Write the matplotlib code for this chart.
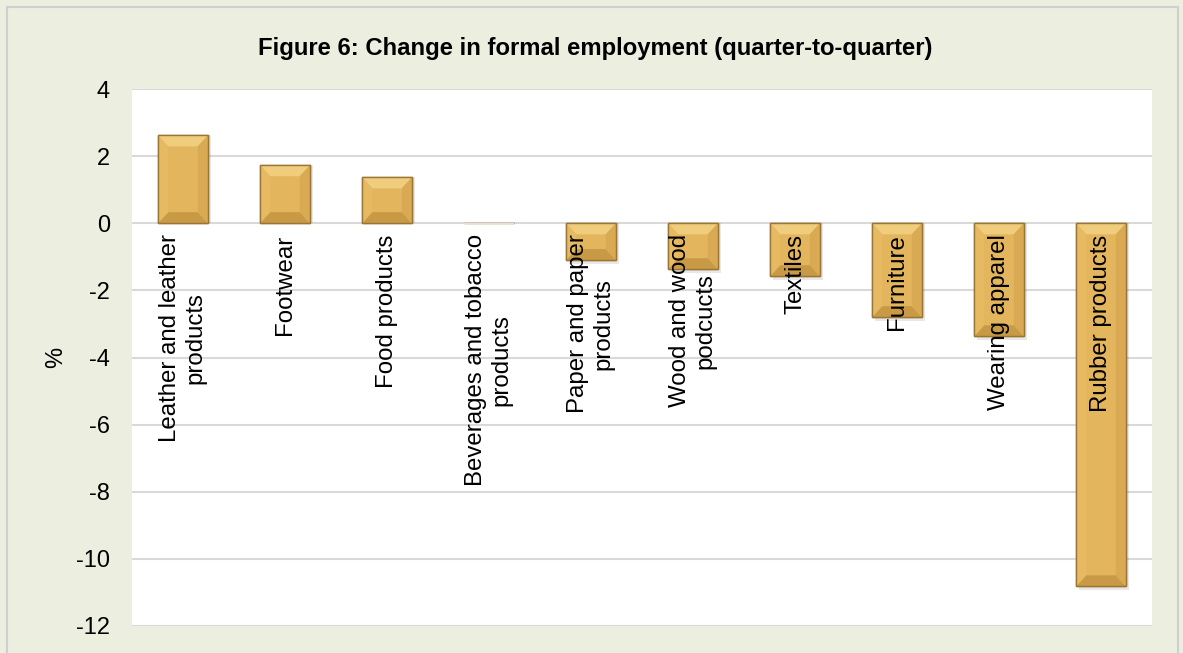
import matplotlib
matplotlib.use("Agg")
import matplotlib.pyplot as plt
from matplotlib.patches import Rectangle
import numpy as np

plt.rcParams['font.family'] = ['Liberation Sans', 'DejaVu Sans']

categories = ["Leather and leather\nproducts", "Footwear", "Food products",
              "Beverages and tobacco\nproducts", "Paper and paper\nproducts",
              "Wood and wood\npodcucts", "Textiles", "Furniture",
              "Wearing apparel", "Rubber products"]
values = [2.62, 1.73, 1.37, 0.02, -1.1, -1.37, -1.58, -2.8, -3.37, -10.82]
yticks = [4, 2, 0, -2, -4, -6, -8, -10, -12]

W, H = 1183, 653
fig = plt.figure(figsize=(W/100, H/100), dpi=100)
bg = "#ECEFDF"
fig.patch.set_facecolor(bg)
fig.patches.append(Rectangle((7/W, -0.05), (1178-7)/W, 1.05 - 7/H, transform=fig.transFigure,
                             fill=False, edgecolor="#CFCFCF", linewidth=1.5))

ax = fig.add_axes([132/W, 1-626/H, (1152-132)/W, (626-89)/H])
ax.set_facecolor("white")
x = np.arange(len(categories))
width = 0.49
bx = 0.1

# shadow
ax.bar(x + 0.03, [v - 0.12 if v < 0 else v for v in values], width, bottom=0,
       color="#000000", alpha=0.09, zorder=2)
ax.bar(x, values, width, color="#E3B55C", edgecolor="#9A7533", linewidth=1.0, zorder=3)

# bevel highlight / shade strips
for xi, v in zip(x, values):
    if abs(v) < 0.05:
        ax.bar(xi, 0.04, width, bottom=-0.02, color="#E6E0D2", zorder=3)
        continue
    top = max(v, 0)
    bot = min(v, 0)
    b = min(0.33, abs(v) * 0.3)
    L, R = xi - width/2, xi + width/2
    ax.fill([L, R, R - bx, L + bx], [top, top, top - b, top - b], color="#F0CD7C", zorder=4, lw=0)
    ax.fill([L, R, R - bx, L + bx], [bot, bot, bot + b, bot + b], color="#C99A45", zorder=4, lw=0)
    ax.fill([L, L + bx, L + bx, L], [top, top - b, bot + b, bot], color="#E6BA62", zorder=4, lw=0)
    ax.fill([R, R - bx, R - bx, R], [top, top - b, bot + b, bot], color="#D9A954", zorder=4, lw=0)
    ax.bar(xi, v, width, color="none", edgecolor="#9A7533", linewidth=1.0, zorder=5)

for xi, lab in zip(x, categories):
    ax.text(xi, -0.33, lab, rotation=90, ha='center', va='top', multialignment='center',
            fontsize=17.3, color="black", zorder=6)

ax.set_xlim(-0.5, len(categories) - 0.5)
ax.set_ylim(-12, 4)
ax.set_yticks(yticks)
ax.set_yticklabels([str(t) for t in yticks], fontsize=17)
ax.set_xticks([])
ax.tick_params(axis='y', length=0, pad=16)
ax.grid(axis='y', color="#D9D9D9", linewidth=1.5, zorder=0)
ax.set_axisbelow(True)
for s in ax.spines.values():
    s.set_visible(False)

fig.text(56/W, 1-357/H, "%", rotation=90, ha='center', va='center', fontsize=17)

fig.text(595/W, 1-48/H, "Figure 6: Change in formal employment (quarter-to-quarter)",
         ha='center', va='center', fontsize=17.2, fontweight='bold')

fig.savefig("out.png", dpi=100, facecolor=fig.get_facecolor())
